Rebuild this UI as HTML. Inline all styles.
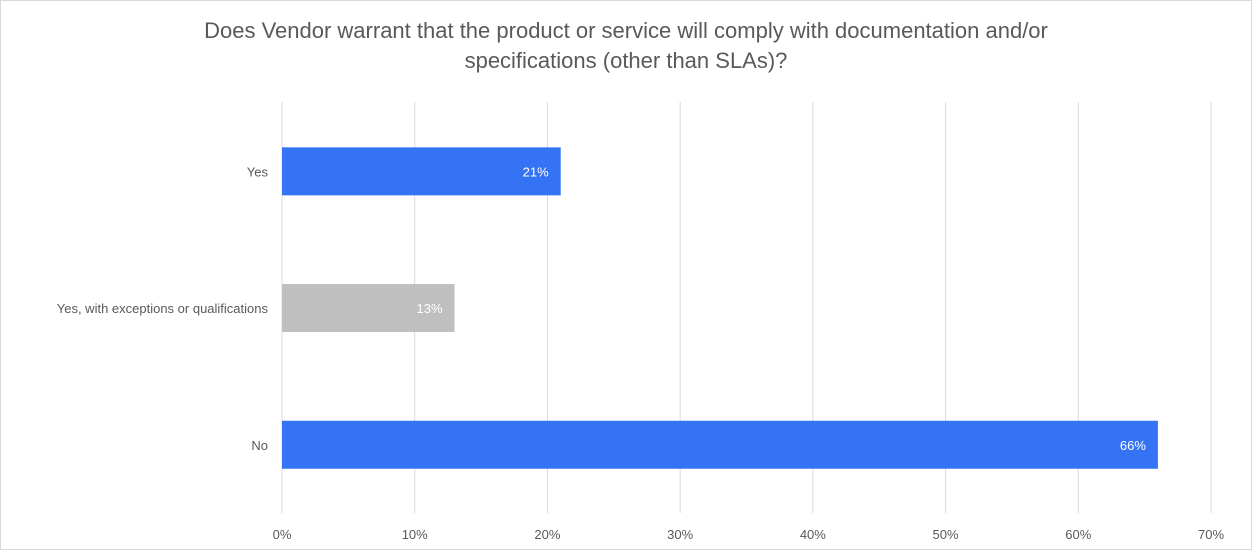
<!DOCTYPE html>
<html><head><meta charset="utf-8"><style>
html,body{margin:0;padding:0;background:#fff;}
body{width:1252px;height:550px;overflow:hidden;font-family:"Liberation Sans",sans-serif;}
#wrap{position:absolute;left:0;top:0;width:1250px;height:548px;border:1px solid #d9d9d9;}
</style></head><body>
<div id="wrap">
<svg id="chart" width="1252" height="550" style="position:absolute;left:-1px;top:-1px">
<text x="626" y="38" text-anchor="middle" font-size="22" fill="#595959">Does Vendor warrant that the product or service will comply with documentation and/or</text>
<text x="626" y="68" text-anchor="middle" font-size="22" fill="#595959">specifications (other than SLAs)?</text>
<g id="grid"></g><g id="bars"></g><g id="labels"></g>
</svg>
</div>
<script>
const categories = ["Yes", "Yes, with exceptions or qualifications", "No"];
const values = [21, 13, 66];
const colors = ["#3373f4", "#bfbfbf", "#3373f4"];
const ticks = [0, 10, 20, 30, 40, 50, 60, 70];
const NS = "http://www.w3.org/2000/svg";
const x0 = 282, x1 = 1211, xmax = 70;
const xs = v => x0 + (x1 - x0) * v / xmax;
const yTop = 102, yBot = 513, bandTop = 103, band = 136.7, barH = 48;
const grid = document.getElementById("grid");
const bars = document.getElementById("bars");
const labels = document.getElementById("labels");
function mk(tag, attrs, parent) { const e = document.createElementNS(NS, tag); for (const k in attrs) e.setAttribute(k, attrs[k]); parent.appendChild(e); return e; }
ticks.forEach(t => {
  const l = mk("line", {x1: xs(t), x2: xs(t), y1: yTop, y2: yBot, stroke: "#d9d9d9", "stroke-width": 1}, grid);
  
  
  const tx = mk("text", {x: xs(t), y: 539, "text-anchor": "middle", "font-size": 13, fill: "#595959"}, labels);
  tx.textContent = t + "%";
  
  
});
categories.forEach((c, i) => {
  const cy = bandTop + band * (i + 0.5);
  const r = mk("rect", {x: xs(0), y: cy - barH / 2, width: xs(values[i]) - xs(0), height: barH, fill: colors[i]}, bars);
  
  
  const v = mk("text", {x: xs(values[i]) - 12, y: cy + 5, "text-anchor": "end", "font-size": 13, fill: "#fff"}, labels);
  v.textContent = values[i] + "%";
  
  
  const cl = mk("text", {x: 268, y: cy + 5, "text-anchor": "end", "font-size": 13, fill: "#595959"}, labels);
  cl.textContent = c;
  
  
});
</script>
</body></html>
